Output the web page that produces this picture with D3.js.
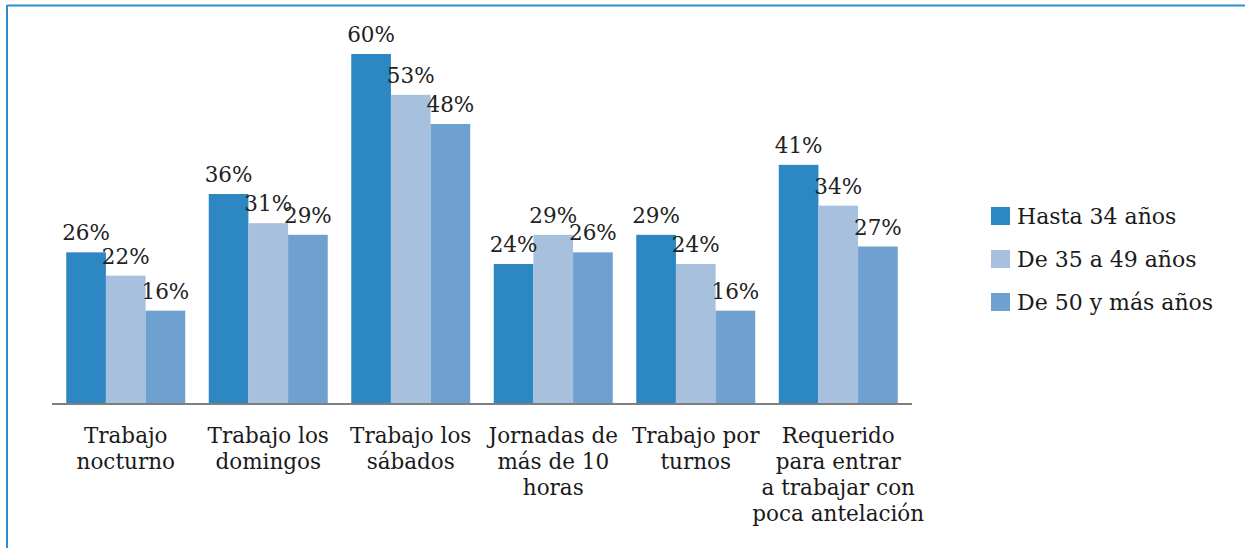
<!DOCTYPE html>
<html>
<head>
<meta charset="utf-8">
<script src="https://cdn.jsdelivr.net/npm/d3@7"></script>
<style>
  html, body { margin: 0; padding: 0; background: #fff; }
  svg { display: block; }
</style>
</head>
<body>
<div id="chart"></div>
<script>
const categories = [
  ["Trabajo", "nocturno"],
  ["Trabajo los", "domingos"],
  ["Trabajo los", "sábados"],
  ["Jornadas de", "más de 10", "horas"],
  ["Trabajo por", "turnos"],
  ["Requerido", "para entrar", "a trabajar con", "poca antelación"]
];
const seriesNames = ["Hasta 34 años", "De 35 a 49 años", "De 50 y más años"];
const hasta34 = [26, 36, 60, 24, 29, 41];
const de35a49 = [22, 31, 53, 29, 24, 34];
const de50 = [16, 29, 48, 26, 16, 27];
const seriesColors = ["#2c87c3", "#a6c0de", "#6ea1d0"];

const W = 1245, H = 548;
const series = [hasta34, de35a49, de50];
const catKeys = categories.map((c, i) => i);

const svg = d3.select("#chart").append("svg").attr("width", W).attr("height", H);

// frame (top and left edges visible)
svg.append("line").attr("x1", 7).attr("x2", W).attr("y1", 5.5).attr("y2", 5.5)
  .attr("stroke", "#2a8fd2").attr("stroke-width", 2);
svg.append("line").attr("x1", 7).attr("x2", 7).attr("y1", 5).attr("y2", H)
  .attr("stroke", "#2a8fd2").attr("stroke-width", 2);

const x = d3.scaleBand().domain(catKeys).range([52, 912]).paddingInner(0.165).paddingOuter(0.1);
const xs = d3.scaleBand().domain(d3.range(series.length)).range([0, x.bandwidth()]);
const y = d3.scaleLinear().domain([0, 60]).range([404, 54]);

const groups = svg.append("g").selectAll("g").data(catKeys).join("g")
  .attr("transform", d => `translate(${x(d)},0)`);

groups.selectAll("rect")
  .data(ci => series.map((s, si) => ({ si, v: s[ci] })))
  .join("rect")
  .attr("x", d => xs(d.si))
  .attr("width", xs.bandwidth())
  .attr("y", d => y(d.v))
  .attr("height", d => y(0) - y(d.v))
  .attr("fill", d => seriesColors[d.si]);

groups.selectAll("text.val")
  .data(ci => series.map((s, si) => ({ si, v: s[ci] })))
  .join("text")
  .attr("class", "val")
  .attr("x", d => xs(d.si) + xs.bandwidth() / 2)
  .attr("y", d => y(d.v) - 12)
  .attr("text-anchor", "middle")
  .attr("font-family", "'DejaVu Serif', serif")
  .attr("font-size", 21.5)
  .attr("fill", "#222")
  .text(d => d.v + "%");

// baseline
svg.append("line").attr("x1", 52).attr("x2", 912).attr("y1", 404).attr("y2", 404)
  .attr("stroke", "#7f7f7f").attr("stroke-width", 2);

// category labels
const labels = svg.append("g").selectAll("text").data(catKeys).join("text")
  .attr("text-anchor", "middle")
  .attr("font-family", "'DejaVu Serif', serif")
  .attr("font-size", 21.5)
  .attr("fill", "#1a1a1a")
  .attr("transform", d => `translate(${x(d) + x.bandwidth() / 2},443)`);
labels.selectAll("tspan").data(d => categories[d]).join("tspan")
  .attr("x", 0)
  .attr("y", (d, i) => i * 26)
  .text(d => d);

// legend
const legend = svg.append("g").selectAll("g").data(seriesNames).join("g")
  .attr("transform", (d, i) => `translate(991,${207 + i * 43})`);
legend.append("rect").attr("width", 19).attr("height", 18)
  .attr("fill", (d, i) => seriesColors[i]);
legend.append("text").attr("x", 26).attr("y", 17)
  .attr("font-family", "'DejaVu Serif', serif")
  .attr("font-size", 22)
  .attr("fill", "#1a1a1a")
  .text(d => d);
</script>
</body>
</html>
